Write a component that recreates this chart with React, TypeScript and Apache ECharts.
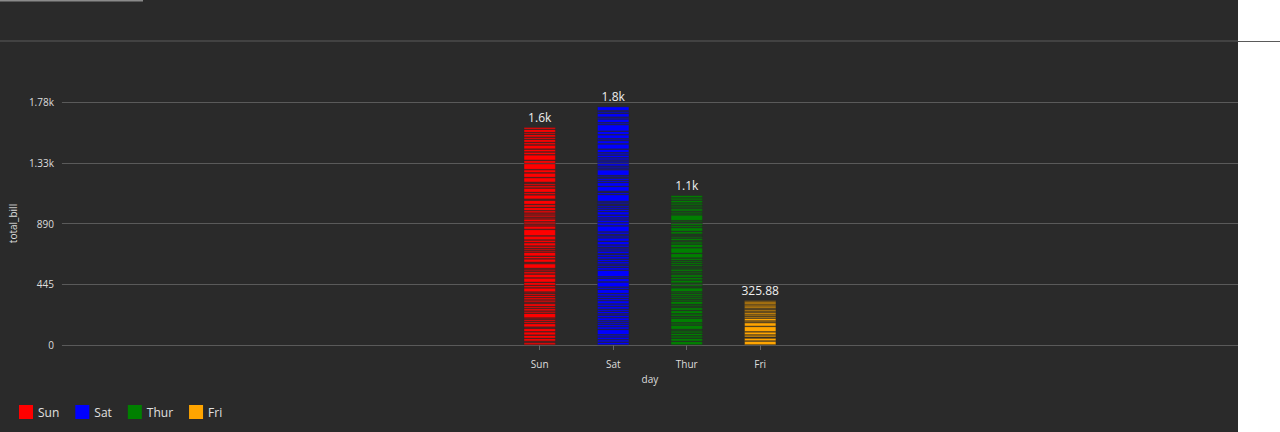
import React, { useEffect, useRef } from 'react';
import * as echarts from 'echarts';

const days = ['Sun', 'Sat', 'Thur', 'Fri'];
const dayColors = ['#ff0000', '#0000ff', '#008000', '#ffa500'];
const dayTotals = [1627.16, 1778.4, 1096.33, 325.88];
// blank slots keep the four bars narrow and centred like the reference
const padBefore = 6;
const padAfter = 6;

const sunBills = [16.99, 10.34, 21.01, 23.68, 24.59, 25.29, 8.77, 26.88, 15.04, 14.78, 10.27, 35.26, 15.42, 18.43, 14.83, 21.58, 10.33, 16.29, 16.97, 17.46, 13.94, 9.68, 30.4, 18.29, 22.23, 32.4, 28.55, 18.04, 12.54, 10.29, 34.81, 9.94, 25.56, 19.49, 29.93, 14.07, 13.13, 17.26, 24.55, 19.77, 29.85, 48.17, 25.0, 13.39, 16.49, 21.5, 12.66, 16.21, 13.81, 17.51, 24.52, 20.76, 31.71, 7.25, 31.85, 16.82, 32.9, 17.89, 14.48, 9.6, 34.63, 34.65, 23.33, 45.35, 23.17, 40.55, 20.69, 20.9, 30.46, 18.15, 23.1, 15.69, 20.45, 13.28, 24.01, 15.53];
const satBills = [20.65, 17.92, 20.29, 15.77, 39.42, 19.82, 17.81, 13.37, 12.69, 21.7, 19.65, 9.55, 18.35, 15.06, 20.69, 17.78, 24.06, 16.31, 16.93, 18.69, 31.27, 16.04, 38.01, 26.41, 11.24, 48.27, 20.29, 13.81, 11.02, 18.29, 17.59, 20.08, 16.45, 3.07, 20.23, 15.01, 12.02, 17.07, 26.86, 25.28, 14.73, 10.51, 17.92, 44.3, 22.42, 20.92, 15.36, 20.49, 25.21, 18.24, 14.31, 14.0, 7.25, 10.59, 10.63, 50.81, 15.81, 7.74, 35.83, 28.44, 15.48, 16.58, 7.56, 10.34, 43.11, 13.0, 13.51, 18.71, 12.74, 13.0, 16.4, 20.53, 16.47, 26.59, 38.73, 24.27, 12.76, 30.06, 25.89, 48.33, 13.27, 28.17, 12.9, 28.15, 11.59, 7.74, 30.14];
const thurBills = [27.2, 22.76, 17.29, 19.44, 16.66, 10.07, 32.68, 15.98, 34.83, 13.03, 18.28, 24.71, 21.16, 10.65, 12.43, 24.08, 11.69, 13.42, 14.26, 15.95, 12.48, 29.8, 8.52, 14.52, 11.38, 22.82, 19.08, 20.27, 11.17, 12.26, 18.26, 8.51, 10.33, 14.15, 16.0, 13.16, 17.47, 34.3, 41.19, 27.05, 16.43, 8.35, 18.64, 11.87, 9.78, 7.51, 19.81, 28.44, 15.48, 16.58, 7.56, 10.34, 43.11, 13.0, 13.51, 18.71, 12.74, 13.0, 16.4, 20.53, 16.47, 18.78];
const friBills = [28.97, 22.49, 5.75, 16.32, 22.75, 40.17, 27.28, 12.03, 21.01, 12.46, 11.35, 15.38, 12.16, 13.42, 8.58, 15.98, 13.42, 16.27, 10.09];

const yMax = 1780;
const yInterval = 445;

const App: React.FC = () => {
  const chartRef = useRef<HTMLDivElement>(null);

  useEffect(() => {
    document.body.style.margin = '0';
    if (!chartRef.current) return;
    const chart = echarts.init(chartRef.current, undefined, { renderer: 'svg' });

    const bills = [sunBills, satBills, thurBills, friBills];
    const categories = [
      ...Array(padBefore).fill(''),
      ...days,
      ...Array(padAfter).fill(''),
    ];
    const slot = (vals: (number | string)[]) => [
      ...Array(padBefore).fill('-'),
      ...vals,
      ...Array(padAfter).fill('-'),
    ];
    const maxLen = Math.max(...bills.map((b) => b.length));

    const series: any[] = [];
    for (let i = 0; i < maxLen; i++) {
      series.push({
        type: 'bar',
        name: 'seg' + i,
        stack: 'total',
        barWidth: 32,
        data: slot(bills.map((b) => (i < b.length ? b[i] : '-'))),
        itemStyle: {
          color: (p: any) => dayColors[p.dataIndex - padBefore] || '#888',
          borderColor: 'rgba(42,42,42,0.7)',
          borderWidth: 0.6,
        },
        silent: true,
      });
    }
    days.forEach((d, i) => {
      series.push({ type: 'bar', name: d, stack: 'total', data: [], itemStyle: { color: dayColors[i] } });
    });
    series.push({
      type: 'bar',
      name: 'totals',
      stack: 'total',
      barWidth: 32,
      data: slot(days.map(() => 0)),
      itemStyle: { color: 'transparent' },
      label: {
        show: true,
        position: 'top',
        color: '#eeeeee',
        fontSize: 12,
        distance: 4,
        formatter: (p: any) => {
          const v = dayTotals[p.dataIndex - padBefore];
          return v >= 1000 ? (v / 1000).toFixed(1) + 'k' : v.toFixed(2);
        },
      },
    });

    chart.setOption({
      animation: false,
      backgroundColor: '#2a2a2a',
      textStyle: { fontFamily: 'Open Sans, Noto Sans, sans-serif' },
      graphic: [
        { type: 'line', shape: { x1: 0, y1: 41, x2: 1238, y2: 41 }, style: { stroke: '#5a5a5a', lineWidth: 1 } },
        { type: 'line', shape: { x1: 0, y1: 0.5, x2: 143, y2: 0.5 }, style: { stroke: '#8a8a8a', lineWidth: 2 } },
      ],
      legend: {
        data: days,
        left: 14,
        bottom: 8,
        itemWidth: 14,
        itemHeight: 14,
        itemGap: 16,
        icon: 'rect',
        textStyle: { color: '#e0e0e0', fontSize: 12 },
      },
      grid: { left: 60, right: 0, top: 102, bottom: 87 },
      xAxis: {
        type: 'category',
        data: categories,
        name: 'day',
        nameLocation: 'middle',
        nameGap: 28,
        nameTextStyle: { color: '#dddddd', fontSize: 10 },
        axisLine: { show: false },
        axisTick: {
          show: true,
          alignWithLabel: true,
          interval: (idx: number, v: string) => v !== '',
          lineStyle: { color: '#666' },
        },
        axisLabel: { color: '#dddddd', fontSize: 10, interval: 0, margin: 14 },
      },
      yAxis: {
        type: 'value',
        min: 0,
        max: yMax,
        interval: yInterval,
        name: 'total_bill',
        nameLocation: 'middle',
        nameGap: 40,
        nameTextStyle: { color: '#dddddd', fontSize: 10 },
        axisLabel: {
          color: '#dddddd',
          fontSize: 10,
          formatter: (v: number) => (v >= 1000 ? (v / 1000).toFixed(2) + 'k' : String(v)),
        },
        splitLine: { lineStyle: { color: '#5a5a5a' } },
      },
      series,
    });

    return () => chart.dispose();
  }, []);

  return (
    <div style={{ position: 'relative', width: 1280, height: 432, background: '#ffffff' }}>
      <div ref={chartRef} style={{ width: 1238, height: 432 }} />
      <div style={{ position: 'absolute', left: 1238, top: 41, width: 42, height: 1, background: '#5a5a5a' }} />
    </div>
  );
};

export default App;
